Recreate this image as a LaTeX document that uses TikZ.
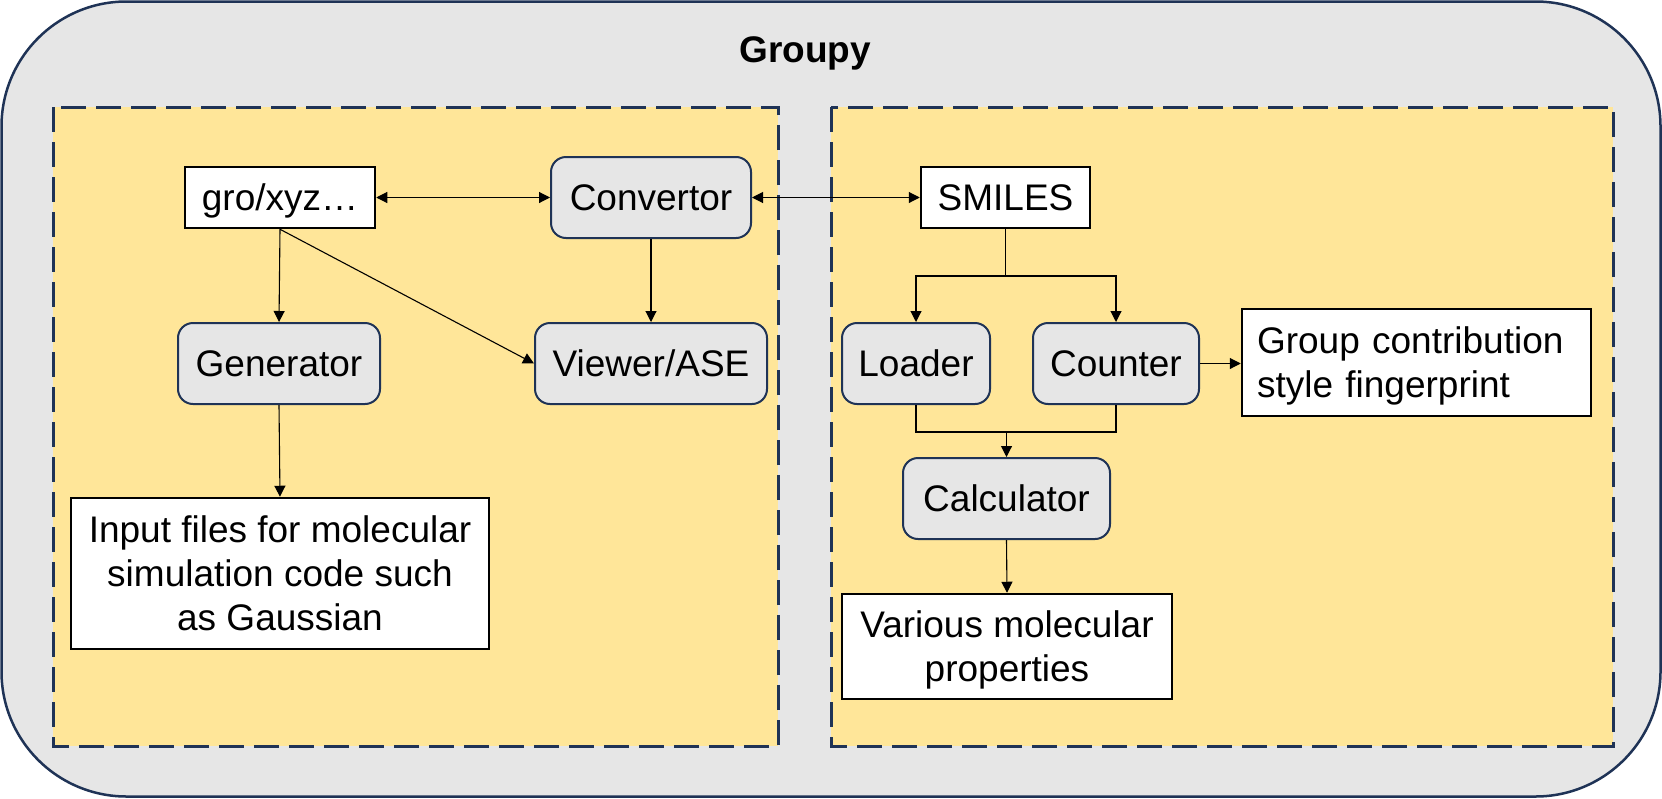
\documentclass[tikz,border=0pt]{standalone}
\usepackage{fontspec}
\setmainfont{Liberation Sans}
\usetikzlibrary{arrows.meta}
\definecolor{navy}{RGB}{31,51,86}
\definecolor{ylw}{RGB}{255,230,153}
\definecolor{lgray}{RGB}{230,230,230}
\newcommand\mystrut{\rule[-7.8pt]{0pt}{41.3pt}}
\begin{document}
\begin{tikzpicture}[x=1pt,y=-1pt,
  >={Triangle[length=11pt,width=11pt]},
  conn/.style={line width=1.1pt,draw=black},
  txt/.style={font=\fontsize{37}{44}\selectfont, align=center},
  rbox/.style={txt, draw=navy, fill=lgray, line width=2pt, rounded corners=15pt,
               minimum height=81pt, inner sep=0pt},
  wbox/.style={txt, draw=black, fill=white, line width=2.5pt, inner sep=0pt},
  grpbox/.style={draw=navy, fill=ylw, line width=3pt, dash pattern=on 25pt off 10pt},
]
\useasboundingbox (0,0) rectangle (1662,798);
% outer container
\draw[navy, fill=lgray, line width=2.5pt, rounded corners=125pt] (1.5,1.5) rectangle (1660.5,796.5);
\node[font=\bfseries\fontsize{37}{44}\selectfont, anchor=base] (title) at (805,62) {Groupy};
% dashed groups
\draw[grpbox] (53,107) rectangle (778,746);
\draw[grpbox] (831,107) rectangle (1613,746);

% left group nodes
\node[wbox, minimum width=190pt, minimum height=61pt] (gro) at (280,197.5) {\mystrut gro/xyz…};
\node[rbox, minimum width=200pt] (conv) at (651,197.5) {\mystrut Convertor};
\node[rbox, minimum width=202pt] (gen) at (279,363.5) {\mystrut Generator};
\node[rbox, minimum width=232pt] (viewer) at (651,363.5) {\mystrut Viewer/ASE};
\node[wbox, minimum width=418pt, minimum height=151pt] (input) at (280,573.5)
  {\mystrut Input files for molecular\\\mystrut simulation code such\\\mystrut as Gaussian};

% right group nodes
\node[wbox, minimum width=169pt, minimum height=61pt] (smiles) at (1005.5,197.5) {\mystrut SMILES};
\node[rbox, minimum width=148pt] (loader) at (916,363.5) {\mystrut Loader};
\node[rbox, minimum width=166pt] (counter) at (1116,363.5) {\mystrut Counter};
\node[wbox, align=left, text width=319pt, inner xsep=15pt, inner ysep=0pt, minimum height=107pt] (group) at (1416.5,362.5)
  {\mystrut Group contribution\\\mystrut style fingerprint};
\node[rbox, minimum width=207pt] (calc) at (1006.5,498.5) {\mystrut Calculator};
\node[wbox, minimum width=330pt, minimum height=105pt] (various) at (1007,646.5)
  {\mystrut Various molecular\\\mystrut properties};

% connectors
\draw[conn,<->] (gro.east) -- (conv.west);
\draw[conn,<->] (conv.east) -- (smiles.west);
\draw[conn,->] (gro.south) -- (gen.north);
\draw[conn,->] (gro.south) -- (viewer.west);
\draw[conn,->] (conv.south) -- (viewer.north);
\draw[conn,->] (gen.south) -- (input.north);

\coordinate (br) at (1005.5,276);
\draw[conn] (smiles.south) -- (br);
\draw[conn,->] (br) -| (loader.north);
\draw[conn,->] (br) -| (counter.north);
\draw[conn,->] (counter.east) -- (counter.east -| group.west);

\coordinate (mg) at (1006.5,432);
\draw[conn] (loader.south) |- (mg);
\draw[conn] (counter.south) |- (mg);
\draw[conn,->] (mg) -- (calc.north);
\draw[conn,->] (calc.south) -- (various.north);
\end{tikzpicture}
\end{document}
